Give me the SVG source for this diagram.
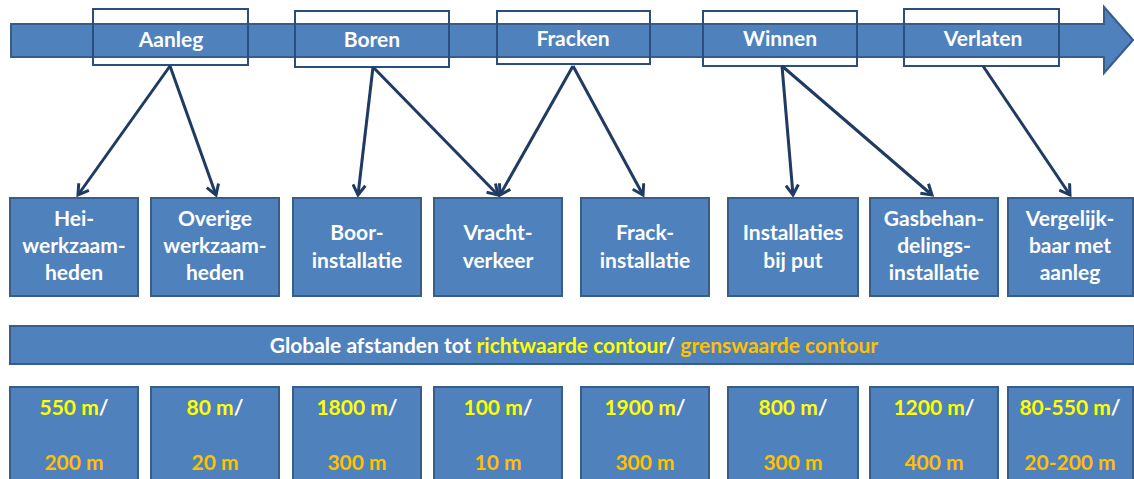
<svg xmlns="http://www.w3.org/2000/svg" width="1134" height="479" viewBox="0 0 1134 479">
<defs>
<style>
.box{fill:#4F81BD;stroke:#385D8A;stroke-width:2}
.phase{fill:none;stroke:#2C4E7E;stroke-width:2}
.t{font-family:Lato,"Open Sans","Liberation Sans",sans-serif;font-weight:bold;font-size:21px;fill:#FFFFFF;text-anchor:middle}
.y{fill:#FFFF00}
.o{fill:#FFC000}
.w{fill:#FFFFFF}
.c{fill:none;stroke:#1F3B63;stroke-width:3;marker-end:url(#ah)}
</style>
<marker id="ah" viewBox="0 0 12 12" refX="10" refY="6" markerWidth="5" markerHeight="5" orient="auto" markerUnits="strokeWidth">
<path d="M2,1 L10,6 L2,11" fill="none" stroke="#1F3B63" stroke-width="2.4"/>
</marker>
</defs>
<rect width="1134" height="479" fill="#FFFFFF"/>
<g id="timeline">
<path class="box" d="M11,24 H1104 V7 L1133,40 L1104,73 V57 H11 Z"/>
</g>
<g id="phase-aanleg"><rect class="phase" x="93" y="9" width="155" height="56"/><text class="t" x="171" y="47">Aanleg</text></g>
<g id="phase-boren"><rect class="phase" x="295" y="11" width="154" height="56"/><text class="t" x="372" y="47">Boren</text></g>
<g id="phase-fracken"><rect class="phase" x="497" y="11" width="153" height="53"/><text class="t" x="573" y="46">Fracken</text></g>
<g id="phase-winnen"><rect class="phase" x="703" y="11" width="154" height="55"/><text class="t" x="780" y="46">Winnen</text></g>
<g id="phase-verlaten"><rect class="phase" x="904" y="9" width="155" height="57"/><text class="t" x="983" y="46">Verlaten</text></g>
<g id="connectors">
<line class="c" x1="170" y1="66" x2="78" y2="195"/>
<line class="c" x1="170" y1="66" x2="216" y2="195"/>
<line class="c" x1="373" y1="67" x2="358" y2="195"/>
<line class="c" x1="373" y1="67" x2="498" y2="195"/>
<line class="c" x1="573" y1="66" x2="500" y2="195"/>
<line class="c" x1="573" y1="66" x2="643" y2="195"/>
<line class="c" x1="782" y1="66" x2="793" y2="195"/>
<line class="c" x1="782" y1="66" x2="932" y2="195"/>
<line class="c" x1="983" y1="66" x2="1070" y2="195"/>
</g>
<g id="n-hei"><rect class="box" x="10" y="198" width="128" height="98"/><text class="t" x="74" y="226">Hei-</text><text class="t" x="74" y="253">werkzaam-</text><text class="t" x="74" y="280">heden</text></g>
<g id="n-overige"><rect class="box" x="151" y="198" width="128" height="98"/><text class="t" x="215" y="226">Overige</text><text class="t" x="215" y="253">werkzaam-</text><text class="t" x="215" y="280">heden</text></g>
<g id="n-boor"><rect class="box" x="293" y="198" width="128" height="98"/><text class="t" x="357" y="240">Boor-</text><text class="t" x="357" y="268">installatie</text></g>
<g id="n-vracht"><rect class="box" x="434" y="198" width="128" height="98"/><text class="t" x="498" y="240">Vracht-</text><text class="t" x="498" y="268">verkeer</text></g>
<g id="n-frack"><rect class="box" x="581" y="198" width="128" height="98"/><text class="t" x="645" y="240">Frack-</text><text class="t" x="645" y="268">installatie</text></g>
<g id="n-install"><rect class="box" x="728" y="198" width="130" height="98"/><text class="t" x="793" y="240">Installaties</text><text class="t" x="793" y="268">bij put</text></g>
<g id="n-gas"><rect class="box" x="870" y="198" width="128" height="98"/><text class="t" x="934" y="226">Gasbehan-</text><text class="t" x="934" y="253">delings-</text><text class="t" x="934" y="280">installatie</text></g>
<g id="n-verlaten"><rect class="box" x="1008" y="198" width="125" height="98"/><text class="t" x="1070" y="226">Vergelijk-</text><text class="t" x="1070" y="253">baar met</text><text class="t" x="1070" y="280">aanleg</text></g>
<g id="n-global"><rect class="box" x="10" y="326" width="1124" height="38"/><text class="t" x="574" y="353">Globale afstanden tot <tspan class="y">richtwaarde contour</tspan><tspan class="w">/ </tspan><tspan class="o">grenswaarde contour</tspan></text></g>
<g id="d-hei"><rect class="box" x="10" y="387" width="128" height="100"/><text class="t" x="74" y="415"><tspan class="y">550 m</tspan>/</text><text class="t o" x="74" y="470">200 m</text></g>
<g id="d-overige"><rect class="box" x="151" y="387" width="128" height="100"/><text class="t" x="215" y="415"><tspan class="y">80 m</tspan>/</text><text class="t o" x="215" y="470">20 m</text></g>
<g id="d-boor"><rect class="box" x="293" y="387" width="128" height="100"/><text class="t" x="357" y="415"><tspan class="y">1800 m</tspan>/</text><text class="t o" x="357" y="470">300 m</text></g>
<g id="d-vracht"><rect class="box" x="434" y="387" width="128" height="100"/><text class="t" x="498" y="415"><tspan class="y">100 m</tspan>/</text><text class="t o" x="498" y="470">10 m</text></g>
<g id="d-frack"><rect class="box" x="581" y="387" width="128" height="100"/><text class="t" x="645" y="415"><tspan class="y">1900 m</tspan>/</text><text class="t o" x="645" y="470">300 m</text></g>
<g id="d-install"><rect class="box" x="728" y="387" width="130" height="100"/><text class="t" x="793" y="415"><tspan class="y">800 m</tspan>/</text><text class="t o" x="793" y="470">300 m</text></g>
<g id="d-gas"><rect class="box" x="870" y="387" width="128" height="100"/><text class="t" x="934" y="415"><tspan class="y">1200 m</tspan>/</text><text class="t o" x="934" y="470">400 m</text></g>
<g id="d-verlaten"><rect class="box" x="1008" y="387" width="125" height="100"/><text class="t" x="1070" y="415"><tspan class="y">80-550 m</tspan>/</text><text class="t o" x="1070" y="470">20-200 m</text></g>
</svg>
